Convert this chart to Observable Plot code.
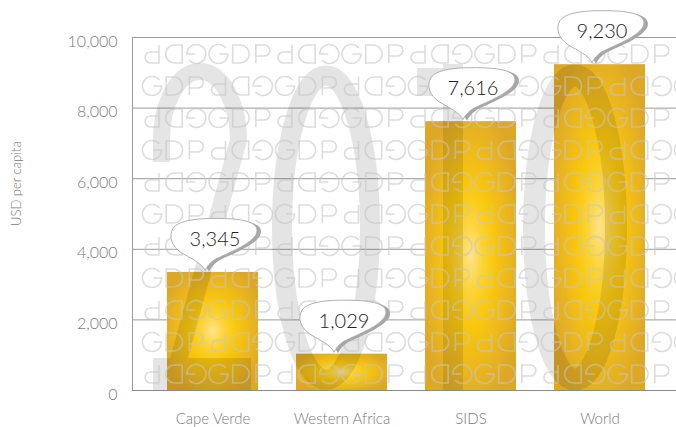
<!DOCTYPE html>
<html>
<head>
<meta charset="utf-8">
<script src="https://cdn.jsdelivr.net/npm/d3@7"></script>
<script src="https://cdn.jsdelivr.net/npm/@observablehq/plot@0.6"></script>
<style>
  html, body { margin: 0; padding: 0; background: #fff; }
  #chart { width: 676px; height: 427px; }
</style>
</head>
<body>
<div id="chart"></div>
<script>
// ---- data ----
const categories = ["Cape Verde", "Western Africa", "SIDS", "World"];
const values = [3345, 1029, 7616, 9230];
const yTicks = [0, 2000, 4000, 6000, 8000, 10000];
const yLabel = "USD per capita";
const watermarkText = "GDP";
const watermarkYear = "2010";

const data = categories.map((c, i) => ({category: c, value: values[i]}));
const fmt = d3.format(",");

// ---- decorative helpers ----
function letterPath(ch, cx, top) {
  const h = 18;
  if (ch === "G") {
    const r = 9.5, a = 40 * Math.PI / 180, cy = top + 9;
    return `M${cx + r * Math.cos(a)},${cy - r * Math.sin(a)}A${r},${r} 0 1 0 ${cx + r},${cy}H${cx + 1}`;
  }
  if (ch === "D") return `M${cx - 8},${top}V${top + h}H${cx - 0.5}A9,9 0 0 0 ${cx - 0.5},${top}Z`;
  if (ch === "P") return `M${cx - 7},${top + h}V${top}H${cx + 1.5}A5.5,5.5 0 0 1 ${cx + 1.5},${top + 11}H${cx - 7}`;
  return "";
}

function decorDefs(index, scales, values, dims) {
  const g = d3.create("svg:g");
  const defs = g.append("defs");
  const grad = defs.append("radialGradient").attr("id", "goldGrad")
    .attr("cx", "50%").attr("cy", "50%").attr("r", "58%");
  [[0, "#FDE48E"], [0.22, "#FCD43A"], [0.45, "#F9C70D"], [0.75, "#EAB61F"], [1, "#DDA826"]]
    .forEach(([o, c]) => grad.append("stop").attr("offset", o).attr("stop-color", c));

  const pat = defs.append("pattern").attr("id", "gdpPattern")
    .attr("patternUnits", "userSpaceOnUse")
    .attr("x", dims.marginLeft + 9).attr("y", dims.marginTop)
    .attr("width", 133).attr("height", 64);
  const letters = watermarkText.split("");
  const pitch = 133 / 6;
  for (let row = 0; row < 2; row++) {
    const top = 8 + 32 * row;
    for (let grp = 0; grp < 2; grp++) {
      const off = grp * 66.5;
      const rotated = (row + grp) % 2 === 0;
      const gg = pat.append("g")
        .attr("fill", "none").attr("stroke", "#c4c4c4").attr("stroke-width", 1.6)
        .attr("stroke-opacity", 0.6);
      if (rotated) gg.attr("transform", `rotate(180,${off + 11 + pitch},${top + 9})`);
      letters.forEach((ch, k) => gg.append("path").attr("d", letterPath(ch, off + 11 + pitch * k, top)));
    }
  }
  // left axis line
  g.append("line")
    .attr("x1", dims.marginLeft + 0.5).attr("x2", dims.marginLeft + 0.5)
    .attr("y1", dims.marginTop).attr("y2", dims.height - dims.marginBottom)
    .attr("stroke", "#999");
  return g.node();
}

function decorOverlay(index, scales, values, dims) {
  const g = d3.create("svg:g");
  // big "2010" watermark
  const yr = g.append("g").attr("opacity", 0.1).attr("aria-label", watermarkYear);
  // "2"
  yr.append("path").attr("d", "M161.5,162L161.5,140A38.5,68.5 0 0 1 238.5,140L178,362")
    .attr("fill", "none").attr("stroke", "#000").attr("stroke-width", 17);
  yr.append("path").attr("d", "M153,358H251V390H153Z").attr("fill", "#000");
  // "0"
  yr.append("ellipse").attr("cx", 326).attr("cy", 227.5).attr("rx", 44).attr("ry", 152)
    .attr("fill", "none").attr("stroke", "#000").attr("stroke-width", 20);
  // "1"
  yr.append("path").attr("d", "M443,64H463V390H443Z M417,68H443V96H417Z").attr("fill", "#000");
  // "0"
  yr.append("ellipse").attr("cx", 575).attr("cy", 227.5).attr("rx", 41).attr("ry", 152)
    .attr("fill", "none").attr("stroke", "#000").attr("stroke-width", 22);
  // GDP pattern
  g.append("rect")
    .attr("x", dims.marginLeft + 8).attr("y", dims.marginTop)
    .attr("width", dims.width - dims.marginRight - dims.marginLeft - 8)
    .attr("height", dims.height - dims.marginTop - dims.marginBottom)
    .attr("fill", "url(#gdpPattern)");
  return g.node();
}

const bubbleSymbol = {
  draw(ctx) {
    ctx.moveTo(-8, 0);
    ctx.bezierCurveTo(-11, -7, -22, -12, -32, -18);
    ctx.bezierCurveTo(-41, -24, -45, -34, -40, -42);
    ctx.bezierCurveTo(-34, -51, -12, -52, 2, -52);
    ctx.bezierCurveTo(20, -52, 44, -51, 44, -40);
    ctx.bezierCurveTo(44, -28, 16, -18, 2, -11);
    ctx.bezierCurveTo(-3, -8, -6, -4, -8, 0);
    ctx.closePath();
  }
};

const chart = Plot.plot({
  width: 676,
  height: 427,
  marginLeft: 132,
  marginRight: 0,
  marginTop: 37,
  marginBottom: 37,
  style: {fontFamily: "Lato, 'Open Sans', sans-serif", fontWeight: 300, background: "#fff"},
  x: {domain: categories, paddingInner: 0.2923, paddingOuter: 0.2385, align: 0.532, label: null},
  y: {domain: [0, 10000], label: null},
  marks: [
    decorDefs,
    Plot.gridY(yTicks.filter(d => d > 0), {stroke: "#9a9a9a", strokeOpacity: 1}),
    Plot.barY(data, {x: "category", y: "value", fill: "url(#goldGrad)"}),
    decorOverlay,
    Plot.ruleY([0], {stroke: "#8a8a8a"}),
    Plot.dot(data, {x: "category", y: "value", symbol: bubbleSymbol, fill: "#a6a6a6", stroke: "none", dx: 4, dy: -1}),
    Plot.dot(data, {x: "category", y: "value", symbol: bubbleSymbol, fill: "#fff", stroke: "#b0b0b0", strokeWidth: 1, dy: -2}),
    Plot.text(data, {x: "category", y: "value", text: d => fmt(d.value), dy: -33, dx: 2, fontSize: 20, fill: "#222"}),
    Plot.axisY(yTicks, {tickSize: 0, tickPadding: 15, tickFormat: fmt, fontSize: 16, color: "#7a7a7a", dy: 4, label: null}),
    Plot.axisX({tickSize: 0, tickPadding: 23, fontSize: 15, color: "#7a7a7a", label: null}),
    Plot.text([yLabel], {frameAnchor: "left", rotate: -90, dx: -116, dy: 12, text: d => d, fontSize: 13, fill: "#7a7a7a"})
  ]
});
document.getElementById("chart").appendChild(chart);
</script>
</body>
</html>
